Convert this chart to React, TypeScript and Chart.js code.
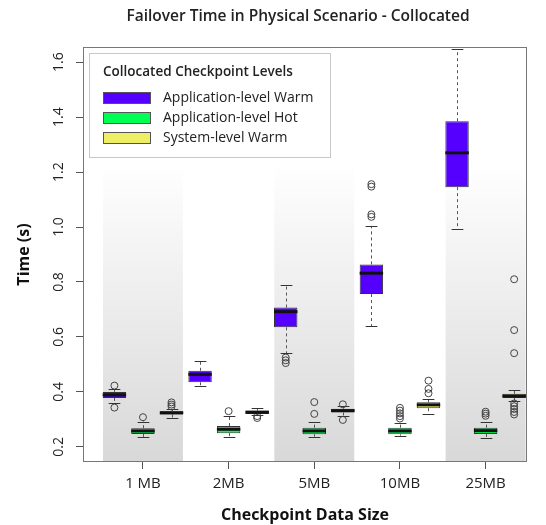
import React, { useEffect, useRef } from 'react';
import { Chart, registerables } from 'chart.js';

Chart.register(...registerables);

const categories = ['1 MB', '2MB', '5MB', '10MB', '25MB'];
const seriesNames = ['Application-level Warm', 'Application-level Hot', 'System-level Warm'];
const seriesColors = ['#5500ff', '#00ff55', '#eeee66'];
const yTicks = [0.2, 0.4, 0.6, 0.8, 1.0, 1.2, 1.4, 1.6];
const shadedGroups = [0, 2, 4];

// Application-level Warm
const warmLower = [0.359, 0.421, 0.541, 0.64, 0.993];
const warmQ1 = [0.378, 0.435, 0.635, 0.756, 1.145];
const warmMedian = [0.389, 0.464, 0.692, 0.832, 1.27];
const warmQ3 = [0.4, 0.477, 0.707, 0.864, 1.385];
const warmUpper = [0.41, 0.514, 0.789, 1.004, 1.647];
const warmOutliers = [[0.423, 0.343], [], [0.525, 0.515, 0.505], [1.037, 1.046, 1.147, 1.156], []];

// Application-level Hot
const hotLower = [0.235, 0.237, 0.237, 0.241, 0.234];
const hotQ1 = [0.247, 0.25, 0.246, 0.246, 0.247];
const hotMedian = [0.258, 0.264, 0.258, 0.258, 0.259];
const hotQ3 = [0.268, 0.276, 0.27, 0.27, 0.27];
const hotUpper = [0.292, 0.313, 0.292, 0.286, 0.29];
const hotOutliers = [[0.308], [0.33], [0.32, 0.363], [0.303, 0.312, 0.322, 0.332, 0.342], [0.313, 0.321, 0.328]];

// System-level Warm
const sysLower = [0.306, 0.317, 0.314, 0.319, 0.368];
const sysQ1 = [0.318, 0.32, 0.325, 0.341, 0.378];
const sysMedian = [0.324, 0.326, 0.332, 0.353, 0.385];
const sysQ3 = [0.33, 0.332, 0.339, 0.362, 0.393];
const sysUpper = [0.338, 0.341, 0.347, 0.373, 0.407];
const sysOutliers = [[0.347, 0.354, 0.362], [0.312, 0.305], [0.355, 0.298], [0.395, 0.411, 0.441], [0.81, 0.625, 0.541, 0.358, 0.348, 0.338, 0.327, 0.318]];

const FONT = '"Open Sans", sans-serif';

const stats = [
  { lower: warmLower, q1: warmQ1, median: warmMedian, q3: warmQ3, upper: warmUpper, outliers: warmOutliers },
  { lower: hotLower, q1: hotQ1, median: hotMedian, q3: hotQ3, upper: hotUpper, outliers: hotOutliers },
  { lower: sysLower, q1: sysQ1, median: sysMedian, q3: sysQ3, upper: sysUpper, outliers: sysOutliers },
];

const boxPos = (g: number, s: number) => g * 3 + 1 + s;
const groupCenter = (g: number) => g * 3 + 2;

const extrasPlugin = {
  id: 'boxExtras',
  beforeDatasetsDraw(chart: any) {
    const { ctx, chartArea: a, scales } = chart;
    const x = scales.x;
    const y = scales.y;
    ctx.save();
    shadedGroups.forEach((g) => {
      const c = groupCenter(g);
      const x0 = x.getPixelForValue(c - 1.4);
      const x1 = x.getPixelForValue(c + 1.4);
      const grad = ctx.createLinearGradient(0, a.top, 0, a.bottom);
      grad.addColorStop(0, '#ffffff');
      grad.addColorStop(0.28, '#ffffff');
      grad.addColorStop(1, '#d8d8d8');
      ctx.fillStyle = grad;
      ctx.fillRect(x0, a.top, x1 - x0, a.bottom - a.top);
    });
    stats.forEach((st, s) => {
      const meta = chart.getDatasetMeta(s);
      st.lower.forEach((_, g) => {
        const el = meta.data[g];
        if (!el) return;
        const cx = Math.round(el.x) + 0.5;
        const hw = el.width / 4;
        const pLow = y.getPixelForValue(st.lower[g]);
        const pQ1 = y.getPixelForValue(st.q1[g]);
        const pQ3 = y.getPixelForValue(st.q3[g]);
        const pUp = y.getPixelForValue(st.upper[g]);
        ctx.strokeStyle = '#555';
        ctx.lineWidth = 1;
        ctx.setLineDash([3, 3]);
        ctx.beginPath();
        ctx.moveTo(cx, pQ3);
        ctx.lineTo(cx, pUp);
        ctx.moveTo(cx, pQ1);
        ctx.lineTo(cx, pLow);
        ctx.stroke();
        ctx.setLineDash([]);
        ctx.strokeStyle = '#333';
        ctx.beginPath();
        ctx.moveTo(cx - hw, Math.round(pUp) + 0.5);
        ctx.lineTo(cx + hw, Math.round(pUp) + 0.5);
        ctx.moveTo(cx - hw, Math.round(pLow) + 0.5);
        ctx.lineTo(cx + hw, Math.round(pLow) + 0.5);
        ctx.stroke();
      });
    });
    ctx.restore();
  },
  afterDatasetsDraw(chart: any) {
    const { ctx, scales } = chart;
    const y = scales.y;
    ctx.save();
    stats.forEach((st, s) => {
      const meta = chart.getDatasetMeta(s);
      st.median.forEach((m, g) => {
        const el = meta.data[g];
        if (!el) return;
        const pm = y.getPixelForValue(m);
        ctx.strokeStyle = '#111';
        ctx.lineWidth = 3;
        ctx.beginPath();
        ctx.moveTo(el.x - el.width / 2, pm);
        ctx.lineTo(el.x + el.width / 2, pm);
        ctx.stroke();
      });
    });
    ctx.restore();
  },
  afterDraw(chart: any) {
    const { ctx, chartArea: a } = chart;
    ctx.save();
    // plot frame
    ctx.strokeStyle = '#777';
    ctx.lineWidth = 1;
    ctx.strokeRect(a.left + 0.5, a.top + 0.5, a.right - a.left - 1, a.bottom - a.top - 1);
    // title
    ctx.fillStyle = '#222';
    ctx.font = `600 15.5px ${FONT}`;
    ctx.textAlign = 'center';
    ctx.textBaseline = 'middle';
    ctx.fillText('Failover Time in Physical Scenario - Collocated', 298, 17);
    // legend
    const lx = a.left + 6;
    const ly = a.top + 6;
    ctx.fillStyle = '#ffffff';
    ctx.fillRect(lx, ly, 241, 104);
    ctx.strokeStyle = '#c8c8c8';
    ctx.strokeRect(lx + 0.5, ly + 0.5, 241, 104);
    ctx.fillStyle = '#222';
    ctx.textAlign = 'left';
    ctx.font = `600 13.5px ${FONT}`;
    ctx.fillText('Collocated Checkpoint Levels', lx + 14, ly + 19);
    ctx.font = `14px ${FONT}`;
    seriesNames.forEach((name, s) => {
      const top = ly + 39 + s * 20;
      ctx.fillStyle = seriesColors[s];
      ctx.fillRect(lx + 14, top, 48, 12);
      ctx.strokeStyle = '#555';
      ctx.strokeRect(lx + 14.5, top + 0.5, 47, 11);
      ctx.fillStyle = '#222';
      ctx.fillText(name, lx + 74, top + 6);
    });
    ctx.restore();
  },
};

export default function App() {
  const ref = useRef<HTMLCanvasElement>(null);
  useEffect(() => {
    const canvas = ref.current;
    if (!canvas) return;
    const barSets = stats.map((st, s) => ({
      type: 'bar' as const,
      label: seriesNames[s],
      data: categories.map((_, g) => ({ x: boxPos(g, s), y: [st.q1[g], st.q3[g]] })),
      backgroundColor: seriesColors[s],
      borderColor: '#333',
      borderWidth: 1,
      borderSkipped: false,
      grouped: false,
      categoryPercentage: 1,
      barPercentage: 0.82,
      order: 2,
    }));
    const outlierSets = stats.map((st, s) => ({
      type: 'scatter' as const,
      label: seriesNames[s] + ' outliers',
      data: st.outliers.flatMap((arr, g) => arr.map((v) => ({ x: boxPos(g, s), y: v }))),
      pointRadius: 3.5,
      pointBorderWidth: 1,
      borderColor: '#444',
      backgroundColor: 'rgba(0,0,0,0)',
      showLine: false,
      order: 1,
    }));
    const chart = new Chart(canvas, {
      type: 'bar',
      data: { datasets: [...barSets, ...outlierSets] as any },
      options: {
        animation: false,
        responsive: false,
        devicePixelRatio: 1,
        layout: { padding: { left: 0, top: 47, right: 19, bottom: 0 } },
        plugins: { legend: { display: false }, title: { display: false }, tooltip: { enabled: false } },
        scales: {
          x: {
            type: 'linear',
            offset: false,
            min: -0.1,
            max: 15.45,
            afterFit: (scale: any) => { scale.height = 63; },
            afterBuildTicks: (scale: any) => { scale.ticks = categories.map((_, g) => ({ value: groupCenter(g) })); },
            ticks: {
              callback: (v: any) => {
                const g = Math.round((Number(v) - 2) / 3);
                return categories[g] ?? '';
              },
              font: { family: FONT, size: 15 },
              color: '#222',
              padding: 6,
              autoSkip: false,
              maxRotation: 0,
            },
            grid: { display: true, offset: false, drawOnChartArea: false, drawTicks: true, tickLength: 7, color: '#555' },
            border: { display: false },
            title: { display: true, text: 'Checkpoint Data Size', font: { family: FONT, size: 16, weight: 'bold' }, color: '#111', padding: { top: 0, bottom: 0 } },
          },
          y: {
            type: 'linear',
            min: 0.145,
            max: 1.655,
            afterFit: (scale: any) => { scale.width = 83; },
            afterBuildTicks: (scale: any) => { scale.ticks = yTicks.map((v) => ({ value: v })); },
            ticks: {
              callback: (v: any) => Number(v).toFixed(1),
              font: { family: FONT, size: 14 },
              color: '#222',
              padding: 7,
              minRotation: 90,
              maxRotation: 90,
              crossAlign: 'center',
              autoSkip: false,
            },
            grid: { display: true, drawOnChartArea: false, drawTicks: true, tickLength: 7, color: '#555' },
            border: { display: false },
            title: { display: true, text: 'Time (s)', font: { family: FONT, size: 16, weight: 'bold' }, color: '#111', padding: { top: 15, bottom: 0 } },
          },
        },
      } as any,
      plugins: [extrasPlugin],
    });
    return () => chart.destroy();
  }, []);
  return (
    <div style={{ position: 'fixed', left: 0, top: 0, width: 546, height: 525, background: '#fff' }}>
      <canvas ref={ref} width={546} height={525} style={{ width: 546, height: 525, display: 'block' }} />
    </div>
  );
}
